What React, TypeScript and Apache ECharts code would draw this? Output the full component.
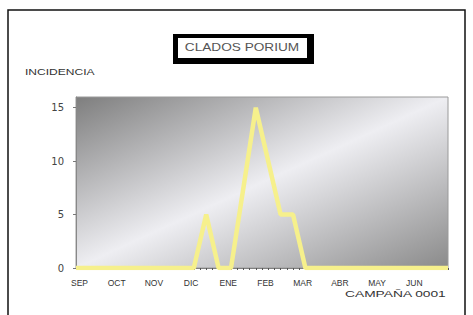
import React, { useEffect, useRef } from "react";
import * as echarts from "echarts";

// Month labels (one tick every three ten-day periods)
const months = ["SEP", "OCT", "NOV", "DIC", "ENE", "FEB", "MAR", "ABR", "MAY", "JUN"];
// Incidence per ten-day period (3 per month, SEP..JUN)
const decadeValues = [
  0, 0, 0, // SEP
  0, 0, 0, // OCT
  0, 0, 0, // NOV
  0, 5, 0, // DIC
  0, 7.5, 15, // ENE
  10, 5, 5, // FEB
  0, 0, 0, // MAR
  0, 0, 0, // ABR
  0, 0, 0, // MAY
  0, 0, 0, // JUN
];
const yTicks = [0, 5, 10, 15];
const titleText = "CLADOS PORIUM";
const yName = "INCIDENCIA";
const xName = "CAMPAÑA 0001";

export default function App() {
  const ref = useRef<HTMLDivElement>(null);
  useEffect(() => {
    document.body.style.margin = "0";
    const chart = echarts.init(ref.current!, null, { renderer: "svg" });
    const n = decadeValues.length;
    const seriesData: number[][] = [
      [0, decadeValues[0]],
      ...decadeValues.map((v, i) => [i + 0.5, v]),
      [n, decadeValues[n - 1]],
    ];
    const yMax = yTicks[yTicks.length - 1] + 1;
    chart.setOption({
      animation: false,
      backgroundColor: "#ffffff",
      grid: {
        left: 76,
        top: 97,
        width: 372,
        height: 171,
        show: true,
        borderColor: "#9a9a9a",
        borderWidth: 1,
        backgroundColor: new echarts.graphic.LinearGradient(0, 0, 1, 1, [
          { offset: 0, color: "#7e7e7e" },
          { offset: 0.5, color: "#eeeef2" },
          { offset: 1, color: "#8a8a8a" },
        ]),
      },
      xAxis: {
        type: "value",
        min: 0,
        max: n,
        interval: 3,
        splitLine: { show: false },
        axisLine: { show: true, lineStyle: { color: "#808080", width: 1 } },
        axisTick: { show: true, length: 2, lineStyle: { color: "#555" } },
        minorTick: { show: true, splitNumber: 6, length: 2, lineStyle: { color: "#555" } },
        axisLabel: {
          formatter: (v: number) => months[Math.round(v / 3)] ?? "",
          fontFamily: "Liberation Sans",
          fontSize: 8.5,
          color: "#333",
          margin: 10,
          padding: [0, 0, 0, 7],
        },
      },
      yAxis: {
        type: "value",
        min: 0,
        max: yMax,
        interval: 5,
        splitLine: { show: false },
        axisLine: { show: true, lineStyle: { color: "#888", width: 1 } },
        axisTick: { show: true, length: 3, lineStyle: { color: "#777" } },
        axisLabel: {
          showMaxLabel: false,
          fontFamily: "DejaVu Sans",
          fontSize: 10,
          color: "#444",
          margin: 12,
        },
      },
      series: [
        {
          type: "line",
          data: seriesData,
          symbol: "none",
          lineStyle: { color: "#f6f08c", width: 4.5 },
        },
      ],
      graphic: [
        {
          type: "rect",
          silent: true,
          shape: { x: 8, y: 10, width: 457, height: 320 },
          style: { fill: "none", stroke: "#111", lineWidth: 1.5 },
        },
        {
          type: "rect",
          silent: true,
          shape: { x: 173, y: 34, width: 141, height: 30 },
          style: { fill: "#000" },
        },
        {
          type: "rect",
          silent: true,
          shape: { x: 178, y: 38, width: 129, height: 20 },
          style: { fill: "#fff" },
        },
        {
          type: "text",
          silent: true,
          x: 242,
          y: 48,
          scaleX: 1.3,
          style: {
            text: titleText,
            fontFamily: "Liberation Sans",
            fontSize: 10.5,
            fill: "#555",
            align: "center",
            verticalAlign: "middle",
          },
        },
        {
          type: "text",
          silent: true,
          x: 25,
          y: 72,
          scaleX: 1.34,
          style: {
            text: yName,
            fontFamily: "Liberation Sans",
            fontSize: 9,
            fill: "#333",
            align: "left",
            verticalAlign: "middle",
          },
        },
        {
          type: "text",
          silent: true,
          x: 345,
          y: 294,
          scaleX: 1.45,
          style: {
            text: xName,
            fontFamily: "Liberation Sans",
            fontSize: 9.5,
            fill: "#333",
            align: "left",
            verticalAlign: "middle",
          },
        },
      ],
    });
    return () => chart.dispose();
  }, []);
  return <div ref={ref} style={{ width: 473, height: 315 }} />;
}
